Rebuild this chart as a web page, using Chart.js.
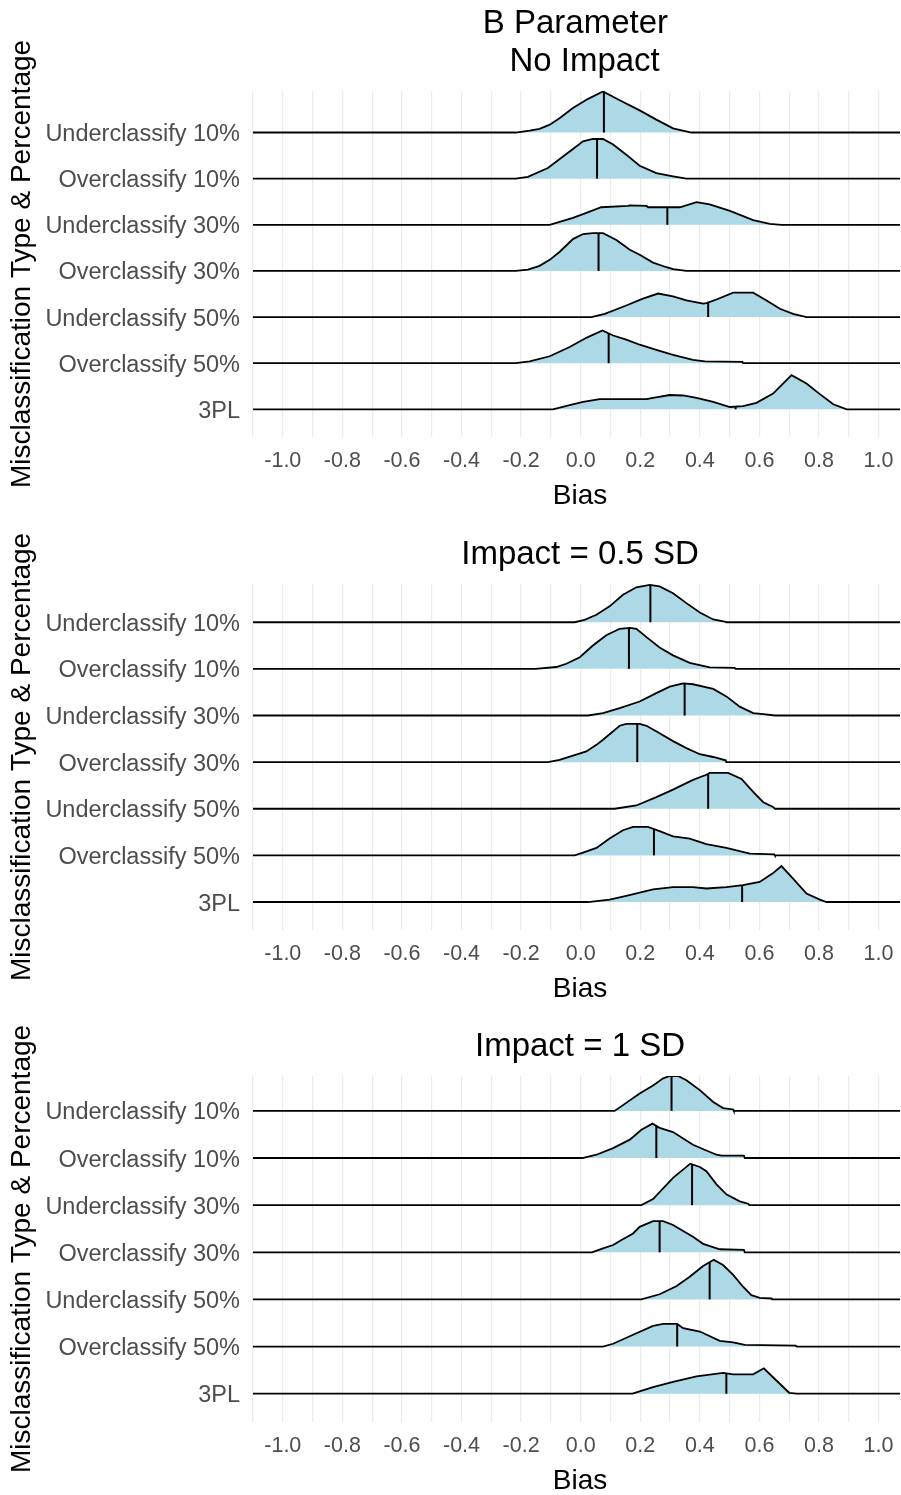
<!DOCTYPE html>
<html>
<head>
<meta charset="utf-8">
<script src="https://cdn.jsdelivr.net/npm/chart.js@4.4.1/dist/chart.umd.min.js"></script>
<style>
  body { margin: 0; background: #fff; }
  canvas { position: absolute; left: 0; }
</style>
</head>
<body>
<canvas id="p1" width="901" height="515" style="top:0px"></canvas>
<canvas id="p2" width="901" height="515" style="top:493px"></canvas>
<canvas id="p3" width="901" height="510" style="top:985px"></canvas>
<script>
// ridge order bottom -> top (index = baseline position on y)
const ridgeLabels = ['3PL', 'Overclassify 50%', 'Underclassify 50%', 'Overclassify 30%',
                     'Underclassify 30%', 'Overclassify 10%', 'Underclassify 10%'];
const gridBreaks = [-1.1, -1.0, -0.9, -0.8, -0.7, -0.6, -0.5, -0.4, -0.3, -0.2, -0.1, 0.0,
                    0.1, 0.2, 0.3, 0.4, 0.5, 0.6, 0.7, 0.8, 0.9, 1.0];
const labelBreaks = [-1.0, -0.8, -0.6, -0.4, -0.2, 0.0, 0.2, 0.4, 0.6, 0.8, 1.0];

// density outlines: [bias, height in ridge units]
const noImpactU10 = [[-0.218,0],[-0.171,0.04],[-0.138,0.08],[-0.104,0.17],[-0.071,0.31],[-0.026,0.53],[0.025,0.73],[0.075,0.89],[0.131,0.70],[0.198,0.48],[0.254,0.28],[0.310,0.09],[0.372,0]];
const noImpactO10 = [[-0.218,0],[-0.177,0.04],[-0.110,0.23],[-0.037,0.59],[0.008,0.81],[0.041,0.86],[0.075,0.86],[0.109,0.74],[0.153,0.52],[0.198,0.28],[0.254,0.12],[0.310,0.05],[0.355,0]];
const noImpactU30 = [[-0.104,0],[-0.026,0.15],[0.019,0.26],[0.069,0.38],[0.159,0.41],[0.165,0.42],[0.221,0.41],[0.226,0.38],[0.333,0.38],[0.389,0.49],[0.433,0.44],[0.501,0.30],[0.579,0.10],[0.635,0.02],[0.674,0]];
const noImpactO30 = [[-0.218,0],[-0.177,0.03],[-0.138,0.11],[-0.104,0.24],[-0.071,0.41],[-0.026,0.69],[0.008,0.80],[0.041,0.82],[0.075,0.82],[0.120,0.67],[0.165,0.46],[0.198,0.35],[0.243,0.18],[0.288,0.08],[0.310,0.04],[0.355,0]];
const noImpactU50 = [[0.036,0],[0.081,0.07],[0.153,0.25],[0.209,0.40],[0.260,0.51],[0.310,0.45],[0.355,0.36],[0.411,0.29],[0.422,0.30],[0.456,0.38],[0.512,0.53],[0.579,0.53],[0.624,0.36],[0.669,0.18],[0.713,0.07],[0.758,0]];
const noImpactO50 = [[-0.218,0],[-0.171,0.04],[-0.104,0.15],[-0.037,0.35],[0.019,0.55],[0.073,0.71],[0.109,0.60],[0.153,0.51],[0.198,0.40],[0.254,0.29],[0.310,0.18],[0.377,0.07],[0.417,0.04],[0.543,0.03],[0.545,0]];
const noImpact3PL = [[-0.093,0],[-0.037,0.09],[0.008,0.16],[0.064,0.22],[0.221,0.22],[0.243,0.25],[0.299,0.31],[0.344,0.30],[0.389,0.25],[0.445,0.16],[0.501,0.05],[0.545,0.07],[0.590,0.14],[0.646,0.34],[0.708,0.74],[0.758,0.56],[0.803,0.33],[0.848,0.11],[0.893,0]];
const noImpactMedians = [0.52, 0.094, 0.428, 0.060, 0.291, 0.055, 0.078];

const impact05U10 = [[-0.020,0],[0.013,0.05],[0.053,0.16],[0.097,0.34],[0.142,0.59],[0.187,0.75],[0.232,0.80],[0.265,0.77],[0.310,0.62],[0.355,0.41],[0.400,0.21],[0.445,0.06],[0.487,0.01],[0.489,0]];
const impact05O10 = [[-0.152,0],[-0.082,0.04],[-0.048,0.11],[-0.003,0.25],[0.041,0.50],[0.086,0.72],[0.131,0.86],[0.165,0.88],[0.187,0.86],[0.221,0.68],[0.265,0.46],[0.310,0.29],[0.366,0.13],[0.422,0.05],[0.433,0.03],[0.517,0.02],[0.520,0]];
const impact05U30 = [[0.025,0],[0.075,0.05],[0.131,0.16],[0.198,0.30],[0.254,0.48],[0.299,0.62],[0.344,0.69],[0.377,0.67],[0.445,0.57],[0.489,0.41],[0.534,0.19],[0.579,0.05],[0.613,0.03],[0.652,0]];
const impact05O30 = [[-0.110,0],[-0.071,0.05],[-0.015,0.16],[0.019,0.23],[0.053,0.37],[0.075,0.48],[0.131,0.78],[0.153,0.82],[0.198,0.82],[0.221,0.78],[0.265,0.62],[0.310,0.45],[0.355,0.30],[0.400,0.17],[0.445,0.11],[0.487,0.04],[0.489,0]];
const impact05U50 = [[0.114,0],[0.187,0.07],[0.254,0.25],[0.310,0.41],[0.377,0.62],[0.422,0.73],[0.433,0.77],[0.495,0.77],[0.540,0.64],[0.579,0.36],[0.613,0.14],[0.646,0.04],[0.652,0]];
const impact05O50 = [[-0.020,0],[0.008,0.06],[0.053,0.16],[0.097,0.36],[0.142,0.54],[0.176,0.61],[0.226,0.61],[0.265,0.52],[0.310,0.41],[0.366,0.36],[0.422,0.24],[0.489,0.16],[0.568,0.04],[0.650,0.02],[0.652,0]];
const impact053PL = [[0.025,0],[0.097,0.05],[0.153,0.13],[0.243,0.27],[0.310,0.32],[0.377,0.32],[0.422,0.29],[0.489,0.32],[0.545,0.36],[0.601,0.43],[0.646,0.62],[0.674,0.77],[0.713,0.50],[0.758,0.18],[0.803,0.05],[0.825,0]];
const impact05Medians = [0.542, 0.246, 0.428, 0.190, 0.349, 0.162, 0.234];

const impact1U10 = [[0.114,0],[0.153,0.17],[0.198,0.37],[0.243,0.54],[0.277,0.69],[0.299,0.74],[0.327,0.74],[0.355,0.65],[0.400,0.44],[0.445,0.19],[0.478,0.06],[0.512,0.03],[0.514,0]];
const impact1O10 = [[0.006,0],[0.053,0.07],[0.109,0.21],[0.165,0.39],[0.204,0.60],[0.241,0.73],[0.265,0.64],[0.310,0.55],[0.377,0.28],[0.422,0.16],[0.456,0.07],[0.473,0.05],[0.548,0.05],[0.551,0]];
const impact1U30 = [[0.204,0],[0.243,0.13],[0.310,0.58],[0.368,0.88],[0.400,0.81],[0.422,0.72],[0.456,0.44],[0.489,0.23],[0.534,0.08],[0.562,0.03],[0.566,0]];
const impact1O30 = [[0.038,0],[0.075,0.085],[0.109,0.155],[0.137,0.26],[0.176,0.40],[0.198,0.54],[0.243,0.66],[0.277,0.66],[0.310,0.58],[0.344,0.45],[0.377,0.33],[0.411,0.18],[0.467,0.065],[0.548,0.05],[0.551,0]];
const impact1U50 = [[0.204,0],[0.265,0.11],[0.321,0.28],[0.366,0.48],[0.411,0.71],[0.447,0.84],[0.478,0.73],[0.512,0.52],[0.545,0.27],[0.573,0.09],[0.601,0.035],[0.641,0.02],[0.643,0]];
const impact1O50 = [[0.075,0],[0.109,0.06],[0.176,0.25],[0.243,0.44],[0.277,0.48],[0.324,0.48],[0.344,0.39],[0.400,0.32],[0.467,0.12],[0.512,0.09],[0.551,0.035],[0.722,0.02],[0.725,0]];
const impact13PL = [[0.174,0],[0.243,0.14],[0.310,0.25],[0.389,0.37],[0.478,0.44],[0.512,0.41],[0.579,0.41],[0.615,0.54],[0.657,0.28],[0.700,0.02],[0.725,0]];
const impact1Medians = [0.489, 0.324, 0.433, 0.265, 0.374, 0.254, 0.305];

const FONT = "'Liberation Sans', Arial, sans-serif";
const X_MIN = -1.1, X_MAX = 1.072;

const panels = [
    { id: 'p1', title: ['B Parameter ', ' No Impact'], yMax: 6.9,
      ridges: [noImpact3PL, noImpactO50, noImpactU50, noImpactO30, noImpactU30, noImpactO10, noImpactU10],
      medians: noImpactMedians },
    { id: 'p2', title: ['Impact = 0.5 SD'], yMax: 6.82,
      ridges: [impact053PL, impact05O50, impact05U50, impact05O30, impact05U30, impact05O10, impact05U10],
      medians: impact05Medians },
    { id: 'p3', title: ['Impact = 1 SD'], yMax: 6.74,
      ridges: [impact13PL, impact1O50, impact1U50, impact1O30, impact1U30, impact1O10, impact1U10],
      medians: impact1Medians }
];

function heightAt(pts, x) {
    for (let k = 1; k < pts.length; k++) {
        if (x <= pts[k][0]) {
            const [x0, h0] = pts[k - 1];
            const [x1, h1] = pts[k];
            return h0 + (h1 - h0) * (x - x0) / (x1 - x0);
        }
    }
    return 0;
}

// titles and axis titles
const panelText = {
    id: 'panelText',
    afterDraw(chart, args, opts) {
        const { ctx, chartArea: a } = chart;
        const cx = (a.left + a.right) / 2 + 3.5;
        ctx.save();
        ctx.fillStyle = '#000';
        ctx.textAlign = 'center';
        ctx.textBaseline = 'middle';
        ctx.font = '33px ' + FONT;
        const n = opts.lines.length;
        opts.lines.forEach((t, k) => {
            ctx.fillText(t, cx, a.top - 29 - 38 * (n - 1 - k));
        });
        ctx.font = '28px ' + FONT;
        ctx.fillText('Bias', cx, a.bottom + 59);
        ctx.translate(22, (a.top + a.bottom) / 2);
        ctx.rotate(-Math.PI / 2);
        ctx.fillText('Misclassification Type & Percentage', 0, 0);
        ctx.restore();
    }
};

function drawPanel(panel) {
    const canvas = document.getElementById(panel.id);
    const datasets = [];

    panel.ridges.forEach((pts, i) => {
        datasets.push({
            data: [{ x: X_MIN, y: i }, ...pts.map(p => ({ x: p[0], y: i + p[1] })), { x: X_MAX, y: i }],
            borderColor: '#000',
            borderWidth: 1.8,
            backgroundColor: '#ADD8E6',
            fill: { value: i },
            pointRadius: 0,
            tension: 0,
            order: i
        });
    });

    panel.medians.forEach((m, i) => {
        datasets.push({
            data: [{ x: m, y: i }, { x: m, y: i + heightAt(panel.ridges[i], m) }],
            borderColor: '#000',
            borderWidth: 2,
            pointRadius: 0,
            fill: false,
            order: -1
        });
    });

    new Chart(canvas, {
        type: 'line',
        data: { datasets: datasets },
        options: {
            responsive: false,
            animation: false,
            devicePixelRatio: 1,
            layout: { padding: { top: 91, left: 0, right: 1, bottom: 0 } },
            scales: {
                x: {
                    type: 'linear',
                    min: X_MIN,
                    max: X_MAX,
                    afterBuildTicks: s => { s.ticks = gridBreaks.map(v => ({ value: v })); },
                    afterFit: s => {
                        s.height = canvas.height - 91 - 346;
                        s.paddingLeft = 0;
                        s.paddingRight = 0;
                    },
                    ticks: {
                        autoSkip: false,
                        maxRotation: 0,
                        padding: 11,
                        color: '#4D4D4D',
                        font: { family: FONT, size: 21.5 },
                        callback: v => labelBreaks.some(b => Math.abs(b - v) < 1e-6) ? v.toFixed(1) : ''
                    },
                    grid: { color: '#EBEBEB', lineWidth: 1.2, drawTicks: false },
                    border: { display: false }
                },
                y: {
                    type: 'linear',
                    min: -0.6,
                    max: panel.yMax,
                    afterBuildTicks: s => { s.ticks = ridgeLabels.map((_, i) => ({ value: i })); },
                    afterFit: s => {
                        s.width = 253;
                        s.paddingTop = 0;
                        s.paddingBottom = 0;
                    },
                    ticks: {
                        autoSkip: false,
                        padding: 13,
                        labelOffset: 2,
                        color: '#4D4D4D',
                        font: { family: FONT, size: 23.5 },
                        callback: v => ridgeLabels[v]
                    },
                    grid: { display: false, drawTicks: false },
                    border: { display: false }
                }
            },
            plugins: {
                legend: { display: false },
                tooltip: { enabled: false },
                panelText: { lines: panel.title }
            }
        },
        plugins: [panelText]
    });
}

panels.forEach(drawPanel);
</script>
</body>
</html>
